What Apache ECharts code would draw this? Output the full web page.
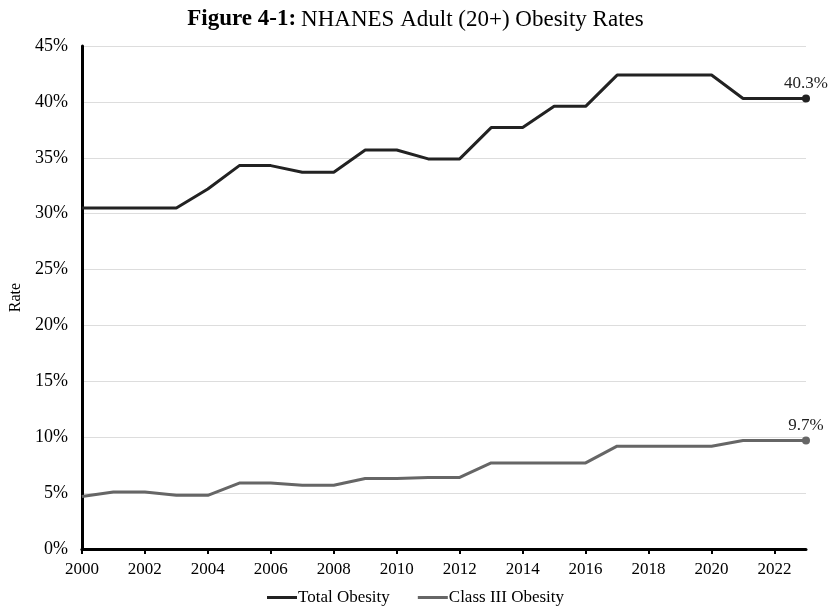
<!DOCTYPE html>
<html>
<head>
<meta charset="utf-8">
<script src="https://cdn.jsdelivr.net/npm/echarts@6/dist/echarts.min.js"></script>
<style>
  html, body { margin: 0; padding: 0; background: #fff; }
  #chart { width: 831px; height: 607px; }
</style>
</head>
<body>
<div id="chart"></div>
<script>
const years = [2000, 2001, 2002, 2003, 2004, 2005, 2006, 2007, 2008, 2009, 2010, 2011,
  2012, 2013, 2014, 2015, 2016, 2017, 2018, 2019, 2020, 2021, 2022, 2023]
const totalObesity = [30.5, 30.5, 30.5, 30.5, 32.2, 34.3, 34.3, 33.7, 33.7, 35.7, 35.7, 34.9,
  34.9, 37.7, 37.7, 39.6, 39.6, 42.4, 42.4, 42.4, 42.4, 40.3, 40.3, 40.3]
const classThree = [4.7, 5.1, 5.1, 4.8, 4.8, 5.9, 5.9, 5.7, 5.7, 6.3, 6.3, 6.4,
  6.4, 7.7, 7.7, 7.7, 7.7, 9.2, 9.2, 9.2, 9.2, 9.7, 9.7, 9.7]
const seriesNames = ['Total Obesity', 'Class III Obesity']
const colors = ['#222222', '#666666']

const font = 'Liberation Serif'

// only the last point gets a dot and a label
const toPoints = (vals) =>
  vals.map((v, i) => {
    const last = i === vals.length - 1
    return {
      value: [years[i], v],
      symbol: last ? 'circle' : 'none',
      symbolSize: last ? 8 : 0,
      label: { show: last },
    }
  })

const chart = echarts.init(document.getElementById('chart'))

const makeSeries = (name, vals, color) => ({
  name,
  type: 'line',
  data: toPoints(vals),
  showAllSymbol: true,
  lineStyle: { color, width: 3 },
  itemStyle: { color },
  label: {
    position: 'top',
    distance: 3,
    color: '#222',
    fontFamily: font,
    fontSize: 17,
    formatter: (p) => p.value[1].toFixed(1) + '%',
  },
  emphasis: { disabled: true },
  animation: false,
})

chart.setOption({
  backgroundColor: '#fff',
  title: {
    text: '{b|Figure 4-1:} {n|NHANES Adult (20+) Obesity Rates}',
    left: 'center',
    top: 3,
    textStyle: {
      fontWeight: 'normal',
      rich: {
        b: { fontFamily: font, fontSize: 23, fontWeight: 'bold', color: '#000' },
        n: { fontFamily: font, fontSize: 23, fontWeight: 'normal', color: '#000' },
      },
    },
  },
  grid: { left: 81, right: 25, top: 46, bottom: 58 },
  legend: {
    bottom: 1,
    left: 'center',
    padding: 0,
    itemWidth: 30,
    itemHeight: 3,
    itemGap: 28,
    icon: 'rect',
    textStyle: { fontFamily: font, fontSize: 17, color: '#000', padding: [0, 0, 0, -4] },
    data: seriesNames,
  },
  xAxis: {
    type: 'value',
    min: 2000,
    max: 2023,
    interval: 2,
    axisLine: { show: true, lineStyle: { color: '#000', width: 3 } },
    axisTick: { show: true, length: 5, lineStyle: { color: '#000', width: 2 } },
    axisLabel: {
      showMaxLabel: false,
      fontFamily: font,
      fontSize: 17,
      color: '#000',
      margin: 12,
      formatter: (v) => String(v),
    },
    splitLine: { show: false },
  },
  yAxis: {
    type: 'value',
    min: 0,
    max: 45,
    interval: 5,
    name: 'Rate',
    nameLocation: 'middle',
    nameGap: 53,
    nameTextStyle: { fontFamily: font, fontSize: 16, color: '#000' },
    axisLine: { show: true, lineStyle: { color: '#000', width: 3 } },
    axisTick: { show: false },
    axisLabel: {
      fontFamily: font,
      fontSize: 18,
      color: '#000',
      margin: 14,
      formatter: (v) => v + '%',
    },
    splitLine: { lineStyle: { color: '#dddddd', width: 1 } },
  },
  series: [
    makeSeries(seriesNames[0], totalObesity, colors[0]),
    makeSeries(seriesNames[1], classThree, colors[1]),
  ],
})
</script>
</body>
</html>
